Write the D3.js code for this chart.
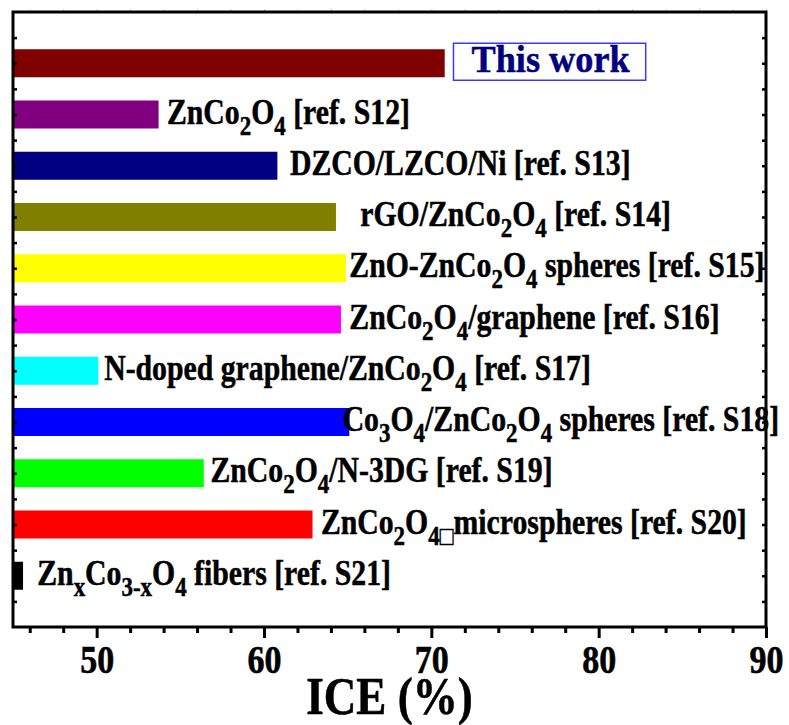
<!DOCTYPE html>
<html>
<head>
<meta charset="utf-8">
<script src="https://cdn.jsdelivr.net/npm/d3@7"></script>
<style>
  html, body { margin: 0; padding: 0; background: #fff; }
  svg { display: block; }
</style>
</head>
<body>
<svg id="chart" width="789" height="725"></svg>
<script>
// ICE values, top to bottom
const names = ['This work', 'S12', 'S13', 'S14', 'S15', 'S16', 'S17', 'S18', 'S19', 'S20', 'S21'];
const ice = [70.8, 53.7, 60.8, 64.3, 64.9, 64.6, 50.1, 65.1, 56.4, 62.9, 45.6];
const colors = ['#800000', '#800080', '#000080', '#808000', '#ffff00', '#ff00ff',
  '#00ffff', '#0000ff', '#00ff00', '#ff0000', '#000000'];
// label text, _{..} marks a subscript
const labels = [
  'This work',
  'ZnCo_{2}O_{4} [ref. S12]',
  'DZCO/LZCO/Ni [ref. S13]',
  'rGO/ZnCo_{2}O_{4} [ref. S14]',
  'ZnO-ZnCo_{2}O_{4} spheres [ref. S15]',
  'ZnCo_{2}O_{4}/graphene [ref. S16]',
  'N-doped graphene/ZnCo_{2}O_{4} [ref. S17]',
  'Co_{3}O_{4}/ZnCo_{2}O_{4} spheres [ref. S18]',
  'ZnCo_{2}O_{4}/N-3DG [ref. S19]',
  'ZnCo_{2}O_{4\u25A1}microspheres [ref. S20]',
  'Zn_{x}Co_{3-x}O_{4} fibers [ref. S21]'
];
// where each label starts, in ICE units
const labelAt = [72.4, 54.2, 61.55, 65.75, 65.1, 65.1, 50.45, 64.7, 56.8, 63.4, 46.45];
const majorTicks = [50, 60, 70, 80, 90];
const minorTicks = [46, 48, 52, 54, 56, 58, 62, 64, 66, 68, 72, 74, 76, 78, 82, 84, 86, 88];

const font = '"Liberation Serif", "Times New Roman", serif';
const squeeze = 0.85;

const svg = d3.select('#chart');
const mLeft = 13, mRight = 766, mTop = 12, mBottom = 627;

const x = d3.scaleLinear().domain([45, 90]).range([mLeft, mRight]);
const y = d3.scalePoint().domain(names).range([mTop, mBottom]).padding(1);
const yHalf = d3.scaleLinear().domain([0, 12]).range([mBottom, mTop]);
const barH = 28;

// bars
svg.append('g')
  .selectAll('rect')
  .data(names)
  .join('rect')
  .attr('x', x(45))
  .attr('y', d => y(d) - barH / 2)
  .attr('width', (d, i) => x(ice[i]) - x(45))
  .attr('height', barH)
  .attr('fill', (d, i) => colors[i]);

// faint top ticks
svg.append('g')
  .attr('transform', `translate(0,${mTop})`)
  .call(d3.axisTop(x).tickValues(minorTicks.concat(majorTicks)).tickSize(3).tickFormat(''))
  .call(g => g.select('.domain').remove())
  .call(g => g.selectAll('line').attr('stroke', '#c8c8c8').attr('stroke-width', 1));

// left / right small ticks
const halfTicks = d3.range(0.5, 12, 0.5);
svg.append('g')
  .attr('transform', `translate(${mLeft},0)`)
  .call(d3.axisLeft(yHalf).tickValues(halfTicks).tickSize(-4).tickFormat(''))
  .call(g => g.select('.domain').remove())
  .call(g => g.selectAll('line').attr('stroke-width', 2.5));
svg.append('g')
  .attr('transform', `translate(${mRight},0)`)
  .call(d3.axisRight(yHalf).tickValues(halfTicks).tickSize(-4).tickFormat(''))
  .call(g => g.select('.domain').remove())
  .call(g => g.selectAll('line').attr('stroke-width', 2.5));

// bottom axis
svg.append('g')
  .attr('transform', `translate(0,${mBottom})`)
  .call(d3.axisBottom(x).tickValues(minorTicks).tickSize(6).tickFormat(''))
  .call(g => g.select('.domain').remove())
  .call(g => g.selectAll('line').attr('stroke-width', 3));

const bx = svg.append('g')
  .attr('transform', `translate(0,${mBottom})`)
  .call(d3.axisBottom(x).tickValues(majorTicks).tickSize(11))
  .call(g => g.select('.domain').remove())
  .call(g => g.selectAll('line').attr('stroke-width', 3));
bx.selectAll('text')
  .attr('font-family', font)
  .attr('font-weight', 'bold')
  .attr('font-size', 40)
  .attr('fill', '#000')
  .attr('stroke', '#000')
  .attr('stroke-width', 0.6)
  .attr('dy', null)
  .attr('y', 46)
  .attr('x', 0)
  .attr('transform', `scale(${squeeze},1)`);

// frame
svg.append('rect')
  .attr('x', mLeft).attr('y', mTop)
  .attr('width', mRight - mLeft).attr('height', mBottom - mTop)
  .attr('fill', 'none')
  .attr('stroke', '#000')
  .attr('stroke-width', 3);

// axis title
svg.append('text')
  .attr('transform', `translate(${(mLeft + mRight) / 2},714) scale(${squeeze},1)`)
  .attr('text-anchor', 'middle')
  .attr('font-family', font)
  .attr('font-weight', 'bold')
  .attr('font-size', 53)
  .attr('stroke', '#000')
  .attr('stroke-width', 0.6)
  .text('ICE (%)');

function parse(s) {
  const out = [];
  const re = /_\{([^}]*)\}|([^_]+)/g;
  let m;
  while ((m = re.exec(s))) {
    if (m[1] !== undefined) out.push({ t: m[1], sub: true });
    else out.push({ t: m[2], sub: false });
  }
  return out;
}

const subDrop = 11;

// bar labels
labels.forEach((lab, i) => {
  if (i === 0) return;
  const segs = parse(lab);
  const t = svg.append('text')
    .attr('transform', `translate(${x(labelAt[i])},${y(names[i]) + 9}) scale(${squeeze},1)`)
    .attr('font-family', font)
    .attr('font-weight', 'bold')
    .attr('font-size', 35)
    .attr('fill', '#000')
    .attr('stroke', '#000')
    .attr('stroke-width', 0.5);
  t.selectAll('tspan')
    .data(segs)
    .join('tspan')
    .attr('font-size', d => d.sub ? 27 : null)
    .attr('dy', (d, k) => {
      const prevSub = k > 0 && segs[k - 1].sub;
      if (d.sub && !prevSub) return subDrop;
      if (!d.sub && prevSub) return -subDrop;
      return 0;
    })
    .text(d => d.t);
});

// "This work" with its box
const tx = x(labelAt[0]);
const tw = svg.append('text')
  .attr('transform', `translate(${tx},${y(names[0]) + 9}) scale(0.93,1)`)
  .attr('font-family', font)
  .attr('font-weight', 'bold')
  .attr('font-size', 39)
  .attr('fill', '#000080')
  .attr('stroke', '#000080')
  .attr('stroke-width', 0.5)
  .text(labels[0]);
const bb = tw.node().getBBox();
svg.append('rect')
  .attr('x', tx - 18)
  .attr('y', y(names[0]) - 20)
  .attr('width', bb.width * 0.93 + 34)
  .attr('height', 37)
  .attr('fill', 'none')
  .attr('stroke', '#3a3aff')
  .attr('stroke-width', 1.5);
</script>
</body>
</html>
